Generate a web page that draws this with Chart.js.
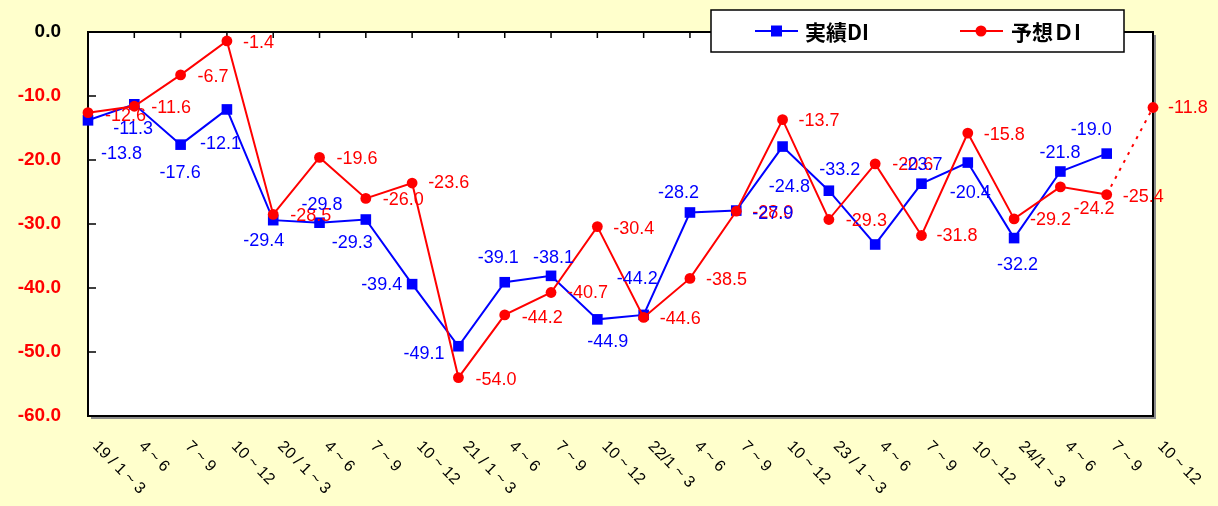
<!DOCTYPE html>
<html>
<head>
<meta charset="utf-8">
<script src="https://cdn.jsdelivr.net/npm/chart.js@4.4.1/dist/chart.umd.min.js"></script>
<style>
  html, body { margin: 0; padding: 0; background: #FFFFCC; }
  canvas { display: block; }
</style>
</head>
<body>
<canvas id="diChart" width="1218" height="506"></canvas>
<script>
// quarters, 2019 Q1 .. 2024 Q4
const categories = [
    '19 / 1 ~ 3', '4 ~ 6', '7 ~ 9', '10 ~ 12',
    '20 / 1 ~ 3', '4 ~ 6', '7 ~ 9', '10 ~ 12',
    '21 / 1 ~ 3', '4 ~ 6', '7 ~ 9', '10 ~ 12',
    '22/1 ~ 3', '4 ~ 6', '7 ~ 9', '10 ~ 12',
    '23 / 1 ~ 3', '4 ~ 6', '7 ~ 9', '10 ~ 12',
    '24/1 ~ 3', '4 ~ 6', '7 ~ 9', '10 ~ 12'
];

// 実績DI
const actualDI = [
    -13.8, -11.3, -17.6, -12.1,
    -29.4, -29.8, -29.3, -39.4,
    -49.1, -39.1, -38.1, -44.9,
    -44.2, -28.2, -27.9, -17.9,
    -24.8, -33.2, -23.7, -20.4,
    -32.2, -21.8, -19.0, null
];

// 予想DI
const forecastDI = [
    -12.6, -11.6, -6.7, -1.4,
    -28.5, -19.6, -26.0, -23.6,
    -54.0, -44.2, -40.7, -30.4,
    -44.6, -38.5, -28.0, -13.7,
    -29.3, -20.6, -31.8, -15.8,
    -29.2, -24.2, -25.4, -11.8
];

const yMin = -60;
const yMax = 0;
const yStep = 10;

// where each value label sits relative to its point (null = no label)
const actualLabelOffsets = [
    [13, 34], [-21, 25], [-21, 28], [-27, 35],
    [-30, 21], [-18, -18], [-34, 24], [-51, 1],
    [-55, 8], [-27, -24], [-18, -18], [-10, 23],
    [-27, -36], [-32, -19], [16, 3], null,
    [-60, -4], [-56, -74], [-20, -19], [-18, 30],
    [-17, 27], [-21, -18], [-36, -24], null
];
const forecastLabelOffsets = [
    [17, 3], [17, 2], [17, 2], [16, 2],
    [17, 2], [17, 2], [17, 2], [16, 0],
    [17, 2], [17, 3], [16, 1], [16, 2],
    [16, 2], [16, 2], [16, 2], [16, 1],
    [17, 2], [17, 1], [15, 1], [16, 2],
    [16, 1], [13, 22], [16, 2], [15, 1]
];

const BLUE = '#0000FF';
const RED = '#FF0000';
const LABEL_FONT = '18px "Liberation Sans", Arial, sans-serif';

function drawValueLabels(chart, dsIndex, values, offsets, color) {
    const ctx = chart.ctx;
    const meta = chart.getDatasetMeta(dsIndex);
    ctx.save();
    ctx.font = LABEL_FONT;
    ctx.fillStyle = color;
    ctx.textAlign = 'left';
    ctx.textBaseline = 'middle';
    meta.data.forEach((pt, i) => {
        if (values[i] === null || !offsets[i]) return;
        ctx.fillText(values[i].toFixed(1), pt.x + offsets[i][0], pt.y + offsets[i][1]);
    });
    ctx.restore();
}

const excelLook = {
    id: 'excelLook',
    beforeDraw(chart) {
        const { ctx, chartArea: a } = chart;
        ctx.save();
        ctx.fillStyle = '#FFFFCC';
        ctx.fillRect(0, 0, chart.width, chart.height);
        ctx.fillStyle = '#FFFFFF';
        ctx.fillRect(a.left, a.top, a.right - a.left, a.bottom - a.top);
        ctx.restore();
    },
    beforeDatasetsDraw(chart) {
        const { ctx, chartArea: a, scales } = chart;
        ctx.save();
        // shadow
        ctx.strokeStyle = '#8C8C8C';
        ctx.lineWidth = 2;
        ctx.beginPath();
        ctx.moveTo(a.left + 3, a.bottom + 2);
        ctx.lineTo(a.right + 2, a.bottom + 2);
        ctx.lineTo(a.right + 2, a.top + 3);
        ctx.stroke();
        // frame
        ctx.strokeStyle = '#000000';
        ctx.lineWidth = 2;
        ctx.strokeRect(a.left, a.top, a.right - a.left, a.bottom - a.top);
        // inner tick marks
        ctx.lineWidth = 1.5;
        ctx.beginPath();
        scales.y.ticks.forEach(t => {
            const y = scales.y.getPixelForValue(t.value);
            ctx.moveTo(a.left, y);
            ctx.lineTo(a.left + 8, y);
        });
        categories.forEach((c, i) => {
            const x = scales.x.getPixelForValue(i);
            ctx.moveTo(x, a.top);
            ctx.lineTo(x, a.top + 6);
        });
        ctx.stroke();
        ctx.restore();
    },
    afterDatasetsDraw(chart) {
        const { ctx, chartArea: a, scales } = chart;
        drawValueLabels(chart, 1, forecastDI, forecastLabelOffsets, RED);
        drawValueLabels(chart, 0, actualDI, actualLabelOffsets, BLUE);
        // slanted category labels
        ctx.save();
        ctx.font = '16px "Liberation Sans", Arial, sans-serif';
        ctx.fillStyle = '#000000';
        ctx.textAlign = 'left';
        ctx.textBaseline = 'middle';
        categories.forEach((c, i) => {
            const x = scales.x.getPixelForValue(i);
            ctx.save();
            ctx.translate(x + 7, a.bottom + 28);
            ctx.rotate(Math.PI / 4);
            ctx.fillText(c, 0, 0);
            ctx.restore();
        });
        ctx.restore();
    },
    afterDraw(chart) {
        const ctx = chart.ctx;
        ctx.save();
        ctx.fillStyle = '#FFFFFF';
        ctx.fillRect(711, 10, 413, 42);
        ctx.strokeStyle = '#000000';
        ctx.lineWidth = 1.5;
        ctx.strokeRect(711, 10, 413, 42);
        const ly = 31;
        ctx.lineWidth = 2;
        // 実績DI
        ctx.strokeStyle = BLUE;
        ctx.beginPath();
        ctx.moveTo(755, ly);
        ctx.lineTo(798, ly);
        ctx.stroke();
        ctx.fillStyle = BLUE;
        ctx.fillRect(771, ly - 5.5, 11, 11);
        // 予想DI
        ctx.strokeStyle = RED;
        ctx.beginPath();
        ctx.moveTo(960, ly);
        ctx.lineTo(1003, ly);
        ctx.stroke();
        ctx.fillStyle = RED;
        ctx.beginPath();
        ctx.arc(981, ly, 5.5, 0, Math.PI * 2);
        ctx.fill();
        ctx.fillStyle = '#000000';
        ctx.font = 'bold 21px "Noto Sans CJK JP", sans-serif';
        ctx.textAlign = 'left';
        ctx.textBaseline = 'middle';
        ctx.fillText('実績DI', 805, ly + 1);
        ctx.fillText('予想ＤI', 1011, ly + 1);
        ctx.restore();
    }
};

new Chart(document.getElementById('diChart'), {
    type: 'line',
    data: {
        labels: categories,
        datasets: [
            {
                label: '実績DI',
                data: actualDI,
                borderColor: BLUE,
                backgroundColor: BLUE,
                borderWidth: 2,
                pointStyle: 'rect',
                pointRadius: 7.5,
                pointHoverRadius: 7.5,
                pointBorderWidth: 0,
                tension: 0,
                clip: false,
                order: 2
            },
            {
                label: '予想DI',
                data: forecastDI,
                borderColor: RED,
                backgroundColor: RED,
                borderWidth: 2,
                pointStyle: 'circle',
                pointRadius: 5.4,
                pointHoverRadius: 5.4,
                pointBorderWidth: 0,
                tension: 0,
                clip: false,
                order: 1,
                segment: {
                    borderDash: c => c.p1DataIndex === forecastDI.length - 1 ? [3, 6] : undefined
                }
            }
        ]
    },
    options: {
        responsive: false,
        animation: false,
        events: [],
        layout: { padding: { left: 0, top: 32, right: 65, bottom: 90 } },
        plugins: {
            legend: { display: false },
            tooltip: { enabled: false }
        },
        scales: {
            x: {
                type: 'category',
                display: false,
                offset: false
            },
            y: {
                min: yMin,
                max: yMax,
                grid: { display: false },
                border: { display: false },
                afterFit(scale) {
                    scale.width = 88;
                    scale.paddingTop = 0;
                    scale.paddingBottom = 0;
                },
                ticks: {
                    stepSize: yStep,
                    padding: 19,
                    font: { family: '"Liberation Sans", Arial, sans-serif', size: 19, weight: 'bold' },
                    color: c => c.tick.value === 0 ? '#000000' : RED,
                    callback: v => v.toFixed(1)
                }
            }
        }
    },
    plugins: [excelLook]
});
</script>
</body>
</html>
